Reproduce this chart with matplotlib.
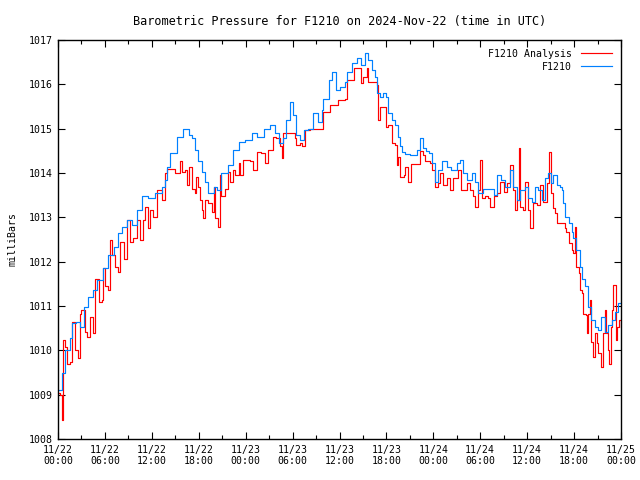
import matplotlib
matplotlib.use('Agg')
import matplotlib.pyplot as plt
import matplotlib.dates as mdates
import pandas as pd

# hours after 2024-11-22 00:00 UTC, pressure in mb
obs_hours = [0.05, 0.5, 0.9, 1.5, 1.75, 2.3, 2.8, 3.3, 3.9, 4.5, 4.95, 5.8, 6.4, 7.1, 7.7,
             8.2, 8.8, 9.4, 10.06, 10.7, 11.5, 12.4, 13.3, 13.7, 13.9, 14.3, 15.2, 16.0,
             16.7, 17.1, 17.5, 17.9, 18.4, 18.8, 19.2, 19.9, 20.3, 20.9, 21.8, 22.4, 23.1,
             23.9, 24.8, 25.4, 26.3, 27.1, 27.7, 28.2, 28.8, 29.2, 29.7, 30.1, 30.5, 30.9,
             31.4, 32.0, 32.6, 33.3, 33.7, 33.9, 34.6, 35.0, 35.6, 36.1, 36.7, 36.9, 37.6,
             38.2, 38.8, 39.3, 39.7, 40.1, 40.5, 40.8, 41.2, 41.6, 42.0, 42.2, 42.7, 43.1,
             43.5, 43.7, 44.0, 44.4, 45.0, 45.9, 46.3, 46.7, 47.1, 47.4, 47.8, 48.2, 48.6,
             49.1, 49.7, 50.3, 51.0, 51.4, 51.8, 52.3, 52.9, 53.3, 53.7, 54.4, 55.0, 55.7,
             56.1, 56.7, 57.2, 57.8, 58.2, 58.7, 59.1, 59.7, 60.1, 60.6, 61.0, 61.4, 61.9,
             62.3, 62.7, 63.1, 63.3, 63.8, 64.2, 64.4, 64.6, 64.8, 65.3, 65.7, 65.9, 66.3,
             66.8, 67.0, 67.4, 67.8, 68.2, 68.7, 69.1, 69.5, 69.9, 70.4, 70.8, 71.2, 71.6,
             72.0]
obs_mb = [1009.1, 1009.5, 1010.0, 1010.28, 1010.62, 1010.65, 1010.53, 1010.98, 1011.21,
          1011.36, 1011.59, 1011.86, 1012.15, 1012.34, 1012.64, 1012.79, 1012.94, 1012.83,
          1013.17, 1013.47, 1013.43, 1013.55, 1013.69, 1013.84, 1014.14, 1014.45, 1014.82,
          1015.0, 1014.86, 1014.79, 1014.52, 1014.26, 1014.03, 1013.8, 1013.54, 1013.69,
          1013.62, 1014.0, 1014.18, 1014.52, 1014.71, 1014.74, 1014.9, 1014.82, 1015.0,
          1015.08, 1014.9, 1014.68, 1014.79, 1015.2, 1015.6, 1015.3, 1014.86, 1014.74,
          1014.97, 1015.0, 1015.35, 1015.16, 1015.42, 1015.68, 1016.1, 1016.28, 1015.87,
          1015.95, 1016.06, 1016.28, 1016.47, 1016.59, 1016.44, 1016.7, 1016.55, 1016.32,
          1016.17, 1015.8, 1015.72, 1015.8, 1015.72, 1015.35, 1015.2, 1015.08, 1014.82,
          1014.6, 1014.48, 1014.42, 1014.4, 1014.52, 1014.78, 1014.56, 1014.5, 1014.44,
          1014.22, 1013.8, 1014.07, 1014.26, 1014.14, 1014.07, 1014.22, 1014.29, 1013.99,
          1013.84, 1013.99, 1013.8, 1013.54, 1013.65, 1013.65, 1013.5, 1013.95, 1013.84,
          1013.69, 1014.07, 1013.69, 1013.39, 1013.62, 1013.69, 1013.43, 1013.35, 1013.69,
          1013.62, 1013.4, 1013.88, 1013.99, 1013.77, 1013.95, 1013.73, 1013.69, 1013.62,
          1013.32, 1013.01, 1012.87, 1012.68, 1012.53, 1012.26, 1011.89, 1011.62, 1011.44,
          1010.98, 1010.68, 1010.53, 1010.46, 1010.76, 1010.42, 1010.57, 1010.68, 1010.87,
          1011.06, 1011.06]

ana_hours = [0.1, 0.3, 0.5, 0.7, 0.9, 1.1, 1.5, 1.75, 2.2, 2.5, 2.8, 3.0, 3.5, 3.7, 4.1,
             4.5, 4.7, 5.2, 5.6, 5.8, 6.0, 6.4, 6.6, 6.9, 7.3, 7.7, 7.9, 8.4, 8.8, 9.2, 9.6,
             10.1, 10.5, 10.9, 11.1, 11.5, 11.8, 12.2, 12.6, 13.3, 13.7, 13.9, 14.7, 15.0,
             15.4, 15.6, 15.8, 16.2, 16.5, 16.7, 16.9, 17.1, 17.5, 17.7, 17.9, 18.2, 18.4,
             18.6, 18.8, 19.2, 19.7, 19.9, 20.1, 20.5, 20.7, 20.9, 21.4, 21.8, 22.0, 22.4,
             22.6, 23.1, 23.3, 23.7, 24.6, 25.0, 25.4, 26.0, 26.5, 26.9, 27.5, 27.9, 28.4,
             28.6, 28.8, 29.7, 30.3, 30.5, 30.9, 31.2, 31.6, 32.2, 33.7, 33.9, 34.6, 34.8,
             35.6, 35.8, 36.7, 36.9, 37.6, 37.8, 38.6, 38.8, 39.0, 39.5, 39.7, 40.5, 40.8,
             40.9, 41.2, 41.8, 41.9, 42.2, 42.7, 43.1, 43.3, 43.5, 43.7, 44.2, 44.4, 44.7,
             44.8, 45.2, 45.9, 46.3, 46.7, 46.9, 47.6, 47.8, 48.2, 48.6, 48.8, 49.3, 49.7,
             50.1, 50.5, 51.2, 51.6, 52.3, 52.7, 53.1, 53.3, 53.7, 54.0, 54.2, 54.6, 55.0,
             55.2, 55.7, 56.1, 56.5, 57.0, 57.4, 57.8, 58.2, 58.4, 58.7, 58.9, 59.1, 59.5,
             59.7, 60.1, 60.4, 60.8, 61.2, 61.6, 62.0, 62.5, 62.8, 63.1, 63.3, 63.6, 63.8,
             64.6, 64.8, 65.0, 65.3, 65.7, 65.9, 66.1, 66.3, 66.6, 66.8, 67.0, 67.2, 67.5,
             67.6, 67.8, 68.0, 68.2, 68.4, 68.7, 68.9, 69.1, 69.5, 69.7, 69.9, 70.1, 70.3,
             70.5, 70.7, 70.9, 71.0, 71.3, 71.5, 71.8, 72.0]
ana_mb = [1009.04, 1009.0, 1008.43, 1010.23, 1010.08, 1009.7, 1009.74, 1010.65, 1010.0,
          1009.82, 1010.83, 1010.9, 1010.42, 1010.31, 1010.76, 1010.38, 1011.62, 1011.1,
          1011.13, 1011.85, 1011.44, 1011.36, 1012.49, 1012.15, 1011.89, 1011.77, 1012.45,
          1012.07, 1012.94, 1012.45, 1012.53, 1012.94, 1012.49, 1012.94, 1013.24, 1012.75,
          1013.17, 1013.01, 1013.62, 1013.39, 1013.99, 1014.1, 1014.1, 1013.99, 1013.99,
          1014.26, 1014.03, 1014.07, 1013.73, 1014.14, 1014.14, 1013.65, 1013.54, 1013.92,
          1013.69, 1013.39, 1013.17, 1012.98, 1013.39, 1013.32, 1013.13, 1013.69, 1012.98,
          1012.79, 1013.95, 1013.47, 1013.65, 1014.03, 1013.8, 1014.07, 1013.95, 1014.22,
          1013.95, 1014.29, 1014.26, 1014.07, 1014.48, 1014.44, 1014.22, 1014.52, 1014.82,
          1014.78, 1014.6, 1014.33, 1014.9, 1014.9, 1014.8, 1014.63, 1014.67, 1014.6,
          1014.97, 1015.0, 1015.0, 1015.38, 1015.38, 1015.53, 1015.53, 1015.65, 1015.68,
          1016.1, 1016.1, 1016.36, 1016.36, 1016.02, 1016.17, 1016.36, 1016.06, 1016.06,
          1015.98, 1015.2, 1015.5, 1015.5, 1015.04, 1015.08, 1014.67, 1014.63, 1014.18,
          1014.37, 1013.92, 1013.95, 1014.14, 1014.14, 1013.8, 1014.2, 1014.2, 1014.5,
          1014.4, 1014.26, 1014.22, 1014.07, 1013.69, 1013.77, 1013.99, 1013.73, 1013.88,
          1013.62, 1013.88, 1014.07, 1013.62, 1013.77, 1013.62, 1013.47, 1013.24, 1013.62,
          1014.29, 1013.43, 1013.47, 1013.43, 1013.24, 1013.47, 1013.54, 1013.8, 1013.58,
          1013.77, 1014.18, 1013.62, 1013.17, 1013.39, 1014.56, 1013.24, 1013.17, 1013.8,
          1013.17, 1012.75, 1013.32, 1013.28, 1013.73, 1013.35, 1013.77, 1014.48, 1013.54,
          1013.2, 1013.09, 1012.87, 1012.87, 1012.75, 1012.68, 1012.41, 1012.26, 1012.19,
          1012.79, 1011.89, 1011.74, 1011.36, 1011.29, 1010.83, 1010.8, 1010.38, 1010.83,
          1011.13, 1010.19, 1009.86, 1010.38, 1010.16, 1009.93, 1009.63, 1010.38, 1010.91,
          1010.38, 1010.0, 1009.7, 1010.53, 1010.91, 1011.47, 1010.23, 1010.53, 1010.68,
          1010.53]

start = pd.Timestamp('2024-11-22 00:00')
obs_time = start + pd.to_timedelta(obs_hours, unit='h')
ana_time = start + pd.to_timedelta(ana_hours, unit='h')

plt.rcParams['font.family'] = 'DejaVu Sans Mono'
plt.rcParams['font.size'] = 7.1

fig = plt.figure(figsize=(6.4, 4.8), dpi=100)
ax = fig.add_axes([58 / 640, 1 - 439 / 480, 563 / 640, 399 / 480])

ax.plot(ana_time, ana_mb, color='#ff0000', linewidth=0.85, drawstyle='steps-post', label='F1210 Analysis')
ax.plot(obs_time, obs_mb, color='#0080ff', linewidth=0.85, drawstyle='steps-post', label='F1210')

ax.set_xlim(start, start + pd.Timedelta(hours=72))
ax.set_ylim(1008, 1017)
ax.set_yticks(range(1008, 1018))

ax.xaxis.set_major_locator(mdates.HourLocator(byhour=[0, 6, 12, 18]))
ax.xaxis.set_minor_locator(mdates.HourLocator(byhour=[3, 9, 15, 21]))
ax.xaxis.set_major_formatter(mdates.DateFormatter('%m/%d\n%H:%M'))

ax.tick_params(which='both', direction='in', top=True, right=True, width=0.8, color='black')
ax.tick_params(which='major', length=5, pad=4)
ax.tick_params(which='minor', length=3)
for s in ax.spines.values():
    s.set_linewidth(1.0)

ax.set_title('Barometric Pressure for F1210 on 2024-Nov-22 (time in UTC)', pad=11)
ax.set_ylabel('milliBars', labelpad=8)

ax.legend(loc='upper right', frameon=False, markerfirst=False, handlelength=3.2,
          handletextpad=0.9, labelspacing=0.3, borderaxespad=0.5)

fig.savefig('out.png', dpi=100)
